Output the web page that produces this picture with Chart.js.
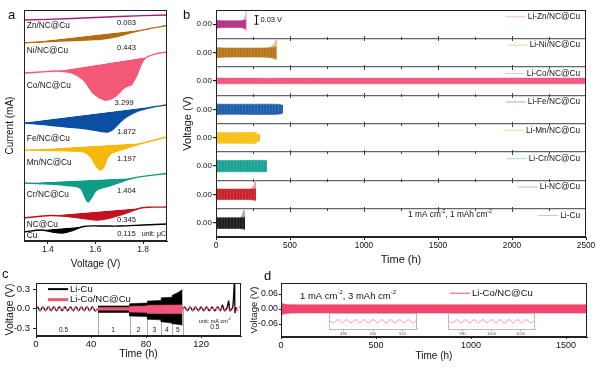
<!DOCTYPE html>
<html>
<head>
<meta charset="utf-8">
<script src="https://cdn.jsdelivr.net/npm/chart.js"></script>
<style>
html, body { margin: 0; padding: 0; background: #fff; width: 600px; height: 369px; overflow: hidden; }
canvas { position: absolute; left: 0; top: 0; }
.tag { position: absolute; font: 13px "Liberation Sans", Arial, sans-serif; line-height: 13px; color: #111; }
</style>
</head>
<body>
<canvas id="ca" width="600" height="369"></canvas>
<canvas id="cb" width="600" height="369"></canvas>
<canvas id="cc" width="600" height="369"></canvas>
<canvas id="cd" width="600" height="369"></canvas>
<canvas id="ci1" width="600" height="369"></canvas>
<canvas id="ci2" width="600" height="369"></canvas>
<div class="tag" style="left:8px;top:8px">a</div>
<div class="tag" style="left:183px;top:8px">b</div>
<div class="tag" style="left:2px;top:267px">c</div>
<div class="tag" style="left:264px;top:269px">d</div>
<script>
// ---------- panel a : stripping curves ----------
const aTicks = [1.4, 1.6, 1.8];
const aNames = ['Zn/NC@Cu', 'Ni/NC@Cu', 'Co/NC@Cu', 'Fe/NC@Cu', 'Mn/NC@Cu', 'Cr/NC@Cu', 'NC@Cu', 'Cu'];
const aCharges = ['0.003', '0.443', '3.299', '1.872', '1.197', '1.404', '0.345', '0.115'];

const znV = [1.30, 1.50, 1.70, 1.90];
const znI = [22.1, 22.25, 22.45, 22.6];
const niV = [1.30, 1.40, 1.50, 1.58, 1.63, 1.70, 1.76, 1.82, 1.90];
const niI = [19.8, 19.95, 20.05, 20.12, 20.2, 20.5, 20.9, 21.2, 21.55];
const coV = [1.30, 1.37, 1.44, 1.50, 1.55, 1.59, 1.64, 1.68, 1.72, 1.737, 1.75, 1.77, 1.795, 1.816, 1.87, 1.90];
const coI = [16.8, 16.9, 17.0, 16.8, 16.1, 14.8, 14.1, 14.4, 15.3, 15.5, 15.6, 16.4, 17.8, 18.4, 18.8, 18.9];
const feV = [1.30, 1.40, 1.48, 1.55, 1.59, 1.65, 1.67, 1.70, 1.73, 1.78, 1.84, 1.90];
const feI = [11.8, 11.6, 11.4, 11.25, 11.1, 10.9, 11.1, 11.8, 12.4, 13.0, 13.4, 13.6];
const mnV = [1.30, 1.40, 1.50, 1.55, 1.58, 1.60, 1.62, 1.635, 1.65, 1.67, 1.72, 1.80, 1.90];
const mnI = [9.1, 9.05, 9.0, 8.9, 8.4, 7.6, 7.1, 7.4, 8.3, 8.8, 9.2, 9.8, 10.4];
const crV = [1.30, 1.40, 1.48, 1.535, 1.556, 1.569, 1.585, 1.606, 1.66, 1.76, 1.90];
const crI = [5.8, 5.7, 5.55, 5.3, 4.4, 3.9, 4.4, 5.1, 5.5, 6.3, 6.75];
const ncV = [1.30, 1.41, 1.50, 1.55, 1.61, 1.66, 1.72, 1.79, 1.84, 1.90];
const ncI = [2.3, 2.55, 2.4, 2.25, 2.1, 2.3, 2.7, 3.3, 3.38, 3.4];
const cuV = [1.30, 1.37, 1.42, 1.46, 1.50, 1.55, 1.62, 1.70, 1.80, 1.90];
const cuI = [0.9, 1.1, 0.9, 0.8, 1.0, 1.45, 1.5, 1.5, 1.6, 1.7];
// straight baselines of the integrated peaks [v0, v1], [i0, i1]
const niBaseV = [1.32, 1.82], niBaseI = [19.85, 21.2];
const coBaseV = [1.44, 1.816], coBaseI = [17.0, 18.4];
const feBaseV = [1.30, 1.84], feBaseI = [11.85, 13.45];
const mnBaseV = [1.30, 1.80], mnBaseI = [9.1, 9.8];
const crBaseV = [1.30, 1.76], crBaseI = [5.8, 6.3];
const ncBaseV = [1.41, 1.79], ncBaseI = [2.55, 3.3];
const cuBaseV = [1.37, 1.55], cuBaseI = [1.1, 1.45];

// ---------- panel b : cycling, Li || X cells ----------
const bTicks = [0, 500, 1000, 1500, 2000, 2500];
const bRowTicks = [0, 0.1, 0.2, 0.3, 0.4, 0.5, 0.6, 0.7];
const bSeparators = [0.05, 0.15, 0.25, 0.35, 0.45, 0.55, 0.65];
const bNames = ['Li-Zn/NC@Cu', 'Li-Ni/NC@Cu', 'Li-Co/NC@Cu', 'Li-Fe/NC@Cu', 'Li-Mn/NC@Cu', 'Li-Cr/NC@Cu', 'Li-NC@Cu', 'Li-Cu'];

const znT = [0, 3, 15, 80, 150, 185, 205];
const znHi = [0.02, 0.016, 0.013, 0.012, 0.012, 0.013, 0.015];
const znLo = [-0.02, -0.016, -0.013, -0.012, -0.012, -0.013, -0.015];
const znTailT = [180, 190, 198, 204, 208];
const znTailHi = [0.013, 0.02, 0.032, 0.046, 0.04];
const znTailLo = [-0.013, -0.018, -0.022, -0.025, -0.02];

const niT = [0, 4, 20, 120, 250, 360, 410];
const niHi = [0.024, 0.019, 0.017, 0.016, 0.016, 0.017, 0.02];
const niLo = [-0.024, -0.019, -0.017, -0.016, -0.016, -0.017, -0.02];
const niTailT = [360, 380, 395, 406, 412];
const niTailHi = [0.017, 0.024, 0.034, 0.048, 0.042];
const niTailLo = [-0.017, -0.02, -0.023, -0.026, -0.022];

const coT = [0, 4, 20, 1000, 2500];
const coHi = [0.016, 0.012, 0.01, 0.01, 0.01];
const coLo = [-0.016, -0.012, -0.01, -0.01, -0.01];

const feT = [0, 4, 25, 200, 400, 440, 453];
const feHi = [0.025, 0.02, 0.018, 0.018, 0.018, 0.016, 0.013];
const feLo = [-0.025, -0.02, -0.018, -0.018, -0.018, -0.016, -0.013];

const mnT = [0, 4, 20, 150, 272, 276, 298];
const mnHi = [0.026, 0.02, 0.018, 0.018, 0.018, 0.012, 0.012];
const mnLo = [-0.026, -0.021, -0.02, -0.02, -0.02, -0.013, -0.013];

const crT = [0, 4, 20, 150, 330, 345];
const crHi = [0.03, 0.022, 0.02, 0.02, 0.02, 0.019];
const crLo = [-0.03, -0.022, -0.02, -0.02, -0.02, -0.019];

const ncT = [0, 4, 20, 150, 240, 270];
const ncHi = [0.027, 0.021, 0.019, 0.019, 0.019, 0.02];
const ncLo = [-0.027, -0.02, -0.018, -0.018, -0.018, -0.02];
const ncTailT = [232, 248, 258, 265, 271];
const ncTailHi = [0.019, 0.026, 0.036, 0.05, 0.04];
const ncTailLo = [-0.018, -0.02, -0.022, -0.024, -0.02];

const cuT = [0, 4, 20, 100, 180, 196];
const cuHi = [0.027, 0.02, 0.018, 0.018, 0.018, 0.02];
const cuLo = [-0.027, -0.021, -0.02, -0.02, -0.02, -0.022];
const cuTailT = [162, 174, 182, 187, 196];
const cuTailHi = [0.018, 0.025, 0.035, 0.048, 0.03];
const cuTailLo = [-0.02, -0.022, -0.024, -0.026, -0.024];

// ---------- panel c : rate test ----------
const cTicks = [0, 40, 80, 120];
const cYTicks = [-0.3, 0, 0.3];
const cWaveT1 = [0, 1, 3, 5, 7, 9, 11, 13, 15, 17, 19, 21, 23, 25, 27, 29, 31, 33, 35, 37, 39, 41, 43, 45];
const cuWaveV1 = [0, 0.03, -0.03, 0.03, -0.03, 0.03, -0.03, 0.03, -0.03, 0.03, -0.03, 0.03, -0.03, 0.03, -0.03, 0.03, -0.03, 0.03, -0.03, 0.03, -0.03, 0.03, -0.03, 0];
const coWaveV1 = [0, 0.028, -0.028, 0.028, -0.028, 0.028, -0.028, 0.028, -0.028, 0.028, -0.028, 0.028, -0.028, 0.028, -0.028, 0.028, -0.028, 0.028, -0.028, 0.028, -0.028, 0.028, -0.028, 0];
const cuEnvT = [45, 68, 68, 81, 81, 91, 91, 99, 99, 103, 106.5];
const cuEnvHi = [0.045, 0.045, 0.08, 0.09, 0.12, 0.13, 0.17, 0.18, 0.21, 0.25, 0.3];
const cuEnvLo = [-0.055, -0.055, -0.11, -0.12, -0.16, -0.17, -0.2, -0.22, -0.23, -0.24, -0.25];
const coEnvT = [45, 68, 68, 81, 81, 106.5];
const coEnvHi = [0.02, 0.02, 0.04, 0.045, 0.055, 0.06];
const coEnvLo = [-0.02, -0.02, -0.05, -0.055, -0.07, -0.075];
const cuWaveT3 = [106.5, 108, 110, 112, 114, 116, 118, 120, 122, 124, 126, 128, 130, 132, 134, 135.5, 137, 139, 140, 141, 143, 144.3, 144.6, 145.2, 146];
const cuWaveV3 = [0, 0.03, -0.03, 0.03, -0.03, 0.03, -0.03, 0.03, -0.03, 0.03, -0.03, 0.03, -0.03, 0.03, -0.03, 0.06, -0.03, 0.03, 0.12, -0.03, 0.03, 0.45, -0.06, 0.02, 0];
const coWaveT3 = [106.5, 108, 110, 112, 114, 116, 118, 120, 122, 124, 126, 128, 130, 132, 134, 136, 138, 140, 142, 144, 146, 148, 149];
const coWaveV3 = [0, 0.028, -0.028, 0.028, -0.028, 0.028, -0.028, 0.028, -0.028, 0.028, -0.028, 0.028, -0.028, 0.028, -0.028, 0.028, -0.028, 0.028, -0.028, 0.028, -0.028, 0.028, 0];
const cSteps = [45, 68, 81, 91, 99, 106.5];
const cRates = ['0.5', '1', '2', '3', '4', '5', '0.5'];
const cRateT = [20, 56, 74.5, 86, 95, 103, 130];

// ---------- panel d : long cycling ----------
const dTicks = [0, 500, 1000, 1500];
const dYTicks = [-0.06, 0, 0.06];
const dT = [0, 3, 10, 30, 80, 300, 1610];
const dHi = [0.03, 0.026, 0.021, 0.018, 0.017, 0.017, 0.017];
const dLo = [-0.03, -0.026, -0.021, -0.018, -0.016, -0.016, -0.016];
const inset1Ticks = [480, 500, 520];
const inset1T = [470, 473, 476, 479, 482, 485, 488, 491, 494, 497, 500, 503, 506, 509, 512, 515, 518, 521, 524, 527, 530];
const inset1V = [0.02, -0.02, 0.02, -0.02, 0.02, -0.02, 0.02, -0.02, 0.02, -0.02, 0.02, -0.02, 0.02, -0.02, 0.02, -0.02, 0.02, -0.02, 0.02, -0.02, 0.02];
const inset2Ticks = [980, 1000, 1020];
const inset2T = [970, 973, 976, 979, 982, 985, 988, 991, 994, 997, 1000, 1003, 1006, 1009, 1012, 1015, 1018, 1021, 1024, 1027, 1030];
const inset2V = [0.02, -0.02, 0.02, -0.02, 0.02, -0.02, 0.02, -0.02, 0.02, -0.02, 0.02, -0.02, 0.02, -0.02, 0.02, -0.02, 0.02, -0.02, 0.02, -0.02, 0.02];

// ---------- helpers ----------
const FONT = '"Liberation Sans", Arial, sans-serif';
Chart.defaults.font.family = FONT;
Chart.defaults.color = '#111';
Chart.defaults.animation = false;
Chart.defaults.events = [];
Chart.defaults.plugins.legend.display = false;
Chart.defaults.plugins.tooltip.enabled = false;
Chart.defaults.elements.point.radius = 0;

const plain = v => String(v);

function pad(L, T, R, B, yW, xH) {
    return { left: L - yW, top: T, right: 600 - R, bottom: 369 - B - xH };
}
function pts(t, v, off) {
    return t.map((tt, i) => ({ x: tt, y: (off || 0) + v[i] }));
}
function setTicks(list) {
    return s => { s.ticks = list.map(v => ({ value: v })); };
}
function drawRich(ctx, parts, x, y, size, align, color) {
    const sup = size * 0.62;
    let w = 0;
    const segs = parts.map(p => {
        const s = p.charAt(0) === '^';
        const t = s ? p.slice(1) : p;
        ctx.font = (s ? sup : size) + 'px ' + FONT;
        const mw = ctx.measureText(t).width;
        w += mw;
        return { t, s, mw };
    });
    let cx = align === 'center' ? x - w / 2 : (align === 'right' ? x - w : x);
    ctx.save();
    ctx.fillStyle = color || '#111';
    ctx.textBaseline = 'middle';
    ctx.textAlign = 'left';
    segs.forEach(g => {
        ctx.font = (g.s ? sup : size) + 'px ' + FONT;
        ctx.fillText(g.t, cx, g.s ? y - size * 0.33 : y);
        cx += g.mw;
    });
    ctx.restore();
    return w;
}
function frame(color) {
    return {
        id: 'frame',
        afterDatasetsDraw(chart) {
            const { ctx, chartArea: a } = chart;
            ctx.save();
            ctx.strokeStyle = color;
            ctx.lineWidth = 1;
            ctx.strokeRect(Math.round(a.left) + 0.5, Math.round(a.top) + 0.5,
                Math.round(a.right - a.left) - 1, Math.round(a.bottom - a.top) - 1);
            ctx.restore();
        }
    };
}
// items: text in data coords; keys: short legend lines in data coords
function notes(items, keys) {
    return {
        id: 'notes',
        afterDraw(chart) {
            const { ctx, scales: { x, y } } = chart;
            (keys || []).forEach(k => {
                ctx.save();
                ctx.strokeStyle = k.color;
                ctx.lineWidth = k.width;
                const py = y.getPixelForValue(k.y);
                ctx.beginPath();
                ctx.moveTo(x.getPixelForValue(k.x1), py);
                ctx.lineTo(x.getPixelForValue(k.x2), py);
                ctx.stroke();
                ctx.restore();
            });
            items.forEach(it => drawRich(ctx, it.parts, x.getPixelForValue(it.x), y.getPixelForValue(it.y),
                it.size, it.align || 'left', it.color));
        }
    };
}
function stripes(canvasId, col) {
    const c = document.createElement('canvas');
    c.width = 3; c.height = 4;
    const g = c.getContext('2d');
    g.fillStyle = col; g.fillRect(0, 0, 3, 4);
    g.fillStyle = 'rgba(255,255,255,0.1)'; g.fillRect(2, 0, 1, 4);
    return document.getElementById(canvasId).getContext('2d').createPattern(c, 'repeat');
}

// ---------- chart a ----------
const aCurves = [
    { v: znV, i: znI, col: '#9e2272' },
    { v: niV, i: niI, bv: niBaseV, bi: niBaseI, col: '#b36c12' },
    { v: coV, i: coI, bv: coBaseV, bi: coBaseI, col: '#f45877' },
    { v: feV, i: feI, bv: feBaseV, bi: feBaseI, col: '#0b4fa2' },
    { v: mnV, i: mnI, bv: mnBaseV, bi: mnBaseI, col: '#f6b90a' },
    { v: crV, i: crI, bv: crBaseV, bi: crBaseI, col: '#0f9c89' },
    { v: ncV, i: ncI, bv: ncBaseV, bi: ncBaseI, col: '#c3121e' },
    { v: cuV, i: cuI, bv: cuBaseV, bi: cuBaseI, col: '#000000' }
];
const aData = [];
aCurves.forEach(c => {
    let fill = false;
    if (c.bv) {
        aData.push({ data: pts(c.bv, c.bi), borderWidth: 0, borderColor: 'rgba(0,0,0,0)', fill: false, tension: 0 });
        fill = { target: aData.length - 1, below: c.col, above: 'rgba(0,0,0,0)' };
    }
    aData.push({ data: pts(c.v, c.i), borderColor: c.col, borderWidth: 1.3, fill: fill, tension: 0.35 });
});
const aLabelY = [21.53, 19.03, 15.5, 10.27, 7.83, 4.6, 1.67, 0.53];
const aChargeY = [21.77, 19.33, 13.83, 10.93, 8.17, 5.0, 2.1, 0.67];
const aItems = [];
aNames.forEach((n, k) => {
    aItems.push({ parts: [n], x: 1.312, y: aLabelY[k], size: 8.3 });
    aItems.push({ parts: [aCharges[k]], x: k === 2 ? 1.72 : 1.73, y: aChargeY[k], size: 7.6, align: 'center' });
});
aItems.push({ parts: ['unit: μC'], x: 1.896, y: 0.67, size: 7, align: 'right' });

new Chart(document.getElementById('ca'), {
    type: 'line',
    data: { datasets: aData },
    options: {
        responsive: false,
        layout: { padding: pad(24, 10, 167, 241, 20, 29) },
        scales: {
            x: {
                type: 'linear', min: 1.3, max: 1.9,
                afterBuildTicks: setTicks(aTicks),
                afterFit: s => { s.height = 29; },
                grid: { drawOnChartArea: false, tickLength: 3, color: '#222' },
                border: { color: '#222' },
                ticks: { font: { size: 8.5 }, padding: 1, autoSkip: false, maxRotation: 0, callback: v => v.toFixed(1) },
                title: { display: true, text: 'Voltage (V)', font: { size: 10 }, padding: 0 }
            },
            y: {
                type: 'linear', min: 0, max: 23.1,
                afterFit: s => { s.width = 20; },
                ticks: { display: false },
                grid: { display: false },
                border: { color: '#222' },
                title: { display: true, text: 'Current (mA)', font: { size: 10 }, padding: 0 }
            }
        }
    },
    plugins: [frame('#222'), notes(aItems)]
});

// ---------- chart b ----------
const bRows = [
    { row: 7, t: znT, hi: znHi, lo: znLo, col: '#b23182', pale: '#f1b9d8', tail: [znTailT, znTailHi, znTailLo], tailCol: '#e8b0d1' },
    { row: 6, t: niT, hi: niHi, lo: niLo, col: '#b8761c', pale: '#e9d0a5', tail: [niTailT, niTailHi, niTailLo], tailCol: '#e0c48f' },
    { row: 5, t: coT, hi: coHi, lo: coLo, col: '#f0577a', pale: '#f7b9c8' },
    { row: 4, t: feT, hi: feHi, lo: feLo, col: '#1f5ea8', pale: '#92b7dc' },
    { row: 3, t: mnT, hi: mnHi, lo: mnLo, col: '#f6c21a', pale: '#f8dd9c' },
    { row: 2, t: crT, hi: crHi, lo: crLo, col: '#1aa393', pale: '#a5ddd5' },
    { row: 1, t: ncT, hi: ncHi, lo: ncLo, col: '#c8232c', pale: '#f0aaaa', tail: [ncTailT, ncTailHi, ncTailLo], tailCol: '#eaa3a5' },
    { row: 0, t: cuT, hi: cuHi, lo: cuLo, col: '#1e1e1e', pale: '#c8c8c8', tail: [cuTailT, cuTailHi, cuTailLo], tailCol: '#a9a9a9' }
];
const bData = [];
bRows.forEach(r => {
    const off = bRowTicks[r.row];
    if (r.tail) {
        bData.push({ data: pts(r.tail[0], r.tail[1], off), borderColor: r.tailCol, borderWidth: 0.6, fill: false, tension: 0.3, order: 1 });
        bData.push({ data: pts(r.tail[0], r.tail[2], off), borderColor: r.tailCol, borderWidth: 0.6, backgroundColor: r.tailCol, fill: '-1', tension: 0.3, order: 1 });
    }
    bData.push({ data: pts(r.t, r.hi, off), borderColor: r.col, borderWidth: 0.6, fill: false, tension: 0.3, order: 0 });
    bData.push({ data: pts(r.t, r.lo, off), borderColor: r.col, borderWidth: 0.6, backgroundColor: stripes('cb', r.col), fill: '-1', tension: 0.3, order: 0 });
});
const isRow = v => bRowTicks.some(r => Math.abs(r - v) < 1e-6);
const bItems = [
    { parts: ['0.03 V'], x: 300, y: 0.7145, size: 7.5 },
    { parts: ['1 mA cm', '^-2', ', 1 mAh cm', '^-2'], x: 1581, y: 0.029, size: 8.3, align: 'center' }
];
const bExtra = {
    id: 'bExtra',
    afterDraw(chart) {
        const { ctx, scales: { x, y }, chartArea: a } = chart;
        ctx.save();
        // small ticks on the separators
        ctx.strokeStyle = '#444';
        ctx.lineWidth = 1;
        bSeparators.forEach(s => {
            const py = Math.round(y.getPixelForValue(s)) + 0.5;
            for (let t = 250; t < 2500; t += 250) {
                const px = Math.round(x.getPixelForValue(t)) + 0.5;
                const h = t % 500 === 0 ? 2.5 : 1.5;
                ctx.beginPath(); ctx.moveTo(px, py - h); ctx.lineTo(px, py + h); ctx.stroke();
            }
        });
        // 0.03 V scale bar
        const bx = Math.round(x.getPixelForValue(270)) + 0.5;
        const y1 = y.getPixelForValue(0.7), y2 = y.getPixelForValue(0.73);
        ctx.strokeStyle = '#111';
        ctx.beginPath();
        ctx.moveTo(bx, y1); ctx.lineTo(bx, y2);
        ctx.moveTo(bx - 2, y1); ctx.lineTo(bx + 2, y1);
        ctx.moveTo(bx - 2, y2); ctx.lineTo(bx + 2, y2);
        ctx.stroke();
        // legends of the stacked panels
        bRows.forEach((r, k) => {
            const py = y.getPixelForValue(bRowTicks[r.row] + 0.026);
            ctx.font = '8.3px ' + FONT;
            const w = ctx.measureText(bNames[k]).width;
            const tx = a.right - 6 - w;
            ctx.strokeStyle = r.pale;
            ctx.lineWidth = 1;
            ctx.beginPath(); ctx.moveTo(tx - 22, py); ctx.lineTo(tx - 2, py); ctx.stroke();
            drawRich(ctx, [bNames[k]], tx, py, 8.3, 'left', '#111');
        });
        ctx.restore();
    }
};
new Chart(document.getElementById('cb'), {
    type: 'line',
    data: { datasets: bData },
    options: {
        responsive: false,
        layout: { padding: pad(216, 10, 586, 237, 34.6, 29.6) },
        scales: {
            x: {
                type: 'linear', min: 0, max: 2500,
                afterBuildTicks: setTicks(bTicks),
                afterFit: s => { s.height = 29.6; },
                grid: { drawOnChartArea: false, tickLength: 3, color: '#222' },
                border: { color: '#222' },
                ticks: { font: { size: 8.3 }, padding: 1, autoSkip: false, maxRotation: 0, callback: plain },
                title: { display: true, text: 'Time (h)', font: { size: 11 }, padding: 0 }
            },
            y: {
                type: 'linear', min: -0.05, max: 0.75,
                afterBuildTicks: setTicks(bRowTicks.concat(bSeparators)),
                afterFit: s => { s.width = 34.6; },
                grid: {
                    drawOnChartArea: true, tickLength: 3, lineWidth: 1.2,
                    color: c => isRow(c.tick.value) ? 'rgba(0,0,0,0)' : '#666',
                    tickColor: c => isRow(c.tick.value) ? '#222' : 'rgba(0,0,0,0)'
                },
                border: { color: '#222' },
                ticks: { font: { size: 8 }, padding: 1, autoSkip: false, callback: v => isRow(v) ? '0.00' : '' },
                title: { display: true, text: 'Voltage (V)', font: { size: 11 }, padding: 0 }
            }
        }
    },
    plugins: [frame('#222'), bExtra, notes(bItems)]
});

// ---------- chart c ----------
const cData = [
    { data: pts(cuEnvT, cuEnvHi), borderColor: '#000', borderWidth: 0.6, fill: false, tension: 0, order: 2 },
    { data: pts(cuEnvT, cuEnvLo), borderColor: '#000', borderWidth: 0.6, backgroundColor: '#000', fill: '-1', tension: 0, order: 2 },
    { data: pts(coEnvT, coEnvHi), borderColor: '#f0567a', borderWidth: 0.6, fill: false, tension: 0, order: 1 },
    { data: pts(coEnvT, coEnvLo), borderColor: '#f0567a', borderWidth: 0.6, backgroundColor: '#f0567a', fill: '-1', tension: 0, order: 1 },
    { data: pts(cWaveT1, cuWaveV1), borderColor: '#000', borderWidth: 1.3, fill: false, tension: 0.4, order: 2 },
    { data: pts(cWaveT1, coWaveV1), borderColor: '#f0567a', borderWidth: 1.4, borderDash: [3, 2], fill: false, tension: 0.4, order: 1 },
    { data: pts(cuWaveT3, cuWaveV3), borderColor: '#000', borderWidth: 1.3, fill: false, tension: 0.25, order: 2 },
    { data: pts(coWaveT3, coWaveV3), borderColor: '#f0567a', borderWidth: 1.4, borderDash: [3, 2], fill: false, tension: 0.4, order: 1 }
];
const cItems = [
    { parts: ['Li-Cu'], x: 24.7, y: 0.305, size: 9.5 },
    { parts: ['Li-Co/NC@Cu'], x: 24.7, y: 0.142, size: 9.5 },
    { parts: ['unit: mA cm', '^-2'], x: 130, y: -0.19, size: 5.5, align: 'center' }
];
cRates.forEach((r, k) => cItems.push({ parts: [r], x: cRateT[k], y: k === 6 ? -0.28 : -0.33, size: 6.5, align: 'center' }));
const cKeys = [
    { x1: 8.7, x2: 23.3, y: 0.305, color: '#000', width: 2 },
    { x1: 8.7, x2: 23.3, y: 0.142, color: '#f0567a', width: 3 }
];
const cStepLines = {
    id: 'cSteps',
    beforeDatasetsDraw(chart) {
        const { ctx, scales: { x, y } } = chart;
        ctx.save();
        ctx.strokeStyle = '#aaa';
        ctx.lineWidth = 1;
        cSteps.forEach(t => {
            const px = Math.round(x.getPixelForValue(t)) + 0.5;
            ctx.beginPath(); ctx.moveTo(px, y.getPixelForValue(0)); ctx.lineTo(px, y.getPixelForValue(-0.42)); ctx.stroke();
        });
        ctx.restore();
    }
};
new Chart(document.getElementById('cc'), {
    type: 'line',
    data: { datasets: cData },
    options: {
        responsive: false,
        layout: { padding: pad(36, 283, 241, 336, 32.3, 24.3) },
        scales: {
            x: {
                type: 'linear', min: 0, max: 149,
                afterBuildTicks: setTicks(cTicks),
                afterFit: s => { s.height = 24.3; },
                grid: { drawOnChartArea: false, tickLength: 2, color: '#222' },
                border: { color: '#222' },
                ticks: { font: { size: 9.5 }, padding: 1, autoSkip: false, maxRotation: 0, callback: plain },
                title: { display: true, text: 'Time (h)', font: { size: 10.5 }, padding: 0 }
            },
            y: {
                type: 'linear', min: -0.42, max: 0.4,
                afterBuildTicks: setTicks(cYTicks),
                afterFit: s => { s.width = 32.3; },
                grid: { drawOnChartArea: false, tickLength: 3, color: '#222' },
                border: { color: '#222' },
                ticks: { font: { size: 9.5 }, padding: 3, autoSkip: false, callback: v => v.toFixed(1) },
                title: { display: true, text: 'Voltage (V)', font: { size: 10.5 }, padding: 0 }
            }
        }
    },
    plugins: [frame('#222'), cStepLines, notes(cItems, cKeys)]
});

// ---------- chart d ----------
const dData = [
    { data: pts(dT, dHi), borderColor: '#f2456b', borderWidth: 0.6, fill: false, tension: 0.3 },
    { data: pts(dT, dLo), borderColor: '#f2456b', borderWidth: 0.6, backgroundColor: '#f2456b', fill: '-1', tension: 0.3 }
];
const dItems = [
    { parts: ['Li-Co/NC@Cu'], x: 1005, y: 0.063, size: 9.5 },
    { parts: ['1 mA cm', '^-2', ', 3 mAh cm', '^-2'], x: 100, y: 0.052, size: 9.5 }
];
const dKeys = [{ x1: 889, x2: 995, y: 0.063, color: '#f06a88', width: 1.2 }];
new Chart(document.getElementById('cd'), {
    type: 'line',
    data: { datasets: dData },
    options: {
        responsive: false,
        layout: { padding: pad(281, 283, 587, 337, 32.7, 25) },
        scales: {
            x: {
                type: 'linear', min: 0, max: 1610,
                afterBuildTicks: setTicks(dTicks),
                afterFit: s => { s.height = 25; },
                grid: { drawOnChartArea: false, tickLength: 2, color: '#222' },
                border: { color: '#222' },
                ticks: { font: { size: 9 }, padding: 1, autoSkip: false, maxRotation: 0, callback: plain },
                title: { display: true, text: 'Time (h)', font: { size: 10 }, padding: 0 }
            },
            y: {
                type: 'linear', min: -0.112, max: 0.104,
                afterBuildTicks: setTicks(dYTicks),
                afterFit: s => { s.width = 32.7; },
                grid: { drawOnChartArea: false, tickLength: 2, color: '#222' },
                border: { color: '#222' },
                ticks: { font: { size: 8.8 }, padding: 1, autoSkip: false, callback: v => v.toFixed(2) },
                title: { display: true, text: 'Voltage (V)', font: { size: 9.5 }, padding: 0 }
            }
        }
    },
    plugins: [frame('#222'), notes(dItems, dKeys)]
});

// ---------- insets of d ----------
function inset(id, L, R, t, v, ticks) {
    new Chart(document.getElementById(id), {
        type: 'line',
        data: { datasets: [{ data: pts(t, v), borderColor: '#f28aa2', borderWidth: 0.9, fill: false, tension: 0.4 }] },
        options: {
            responsive: false,
            layout: { padding: pad(L, 313, R, 329.5, 0, 7) },
            scales: {
                x: {
                    type: 'linear', min: t[0], max: t[t.length - 1],
                    afterBuildTicks: setTicks(ticks),
                    afterFit: s => { s.height = 7; },
                    grid: { drawOnChartArea: false, tickLength: 1.5, color: '#999' },
                    border: { color: '#bbb' },
                    ticks: { font: { size: 4 }, color: '#555', padding: 0.5, autoSkip: false, maxRotation: 0, callback: plain }
                },
                y: { type: 'linear', min: -0.1, max: 0.1, display: false }
            }
        },
        plugins: [frame('#bbb')]
    });
}
inset('ci1', 329, 417, inset1T, inset1V, inset1Ticks);
inset('ci2', 448, 535, inset2T, inset2V, inset2Ticks);
</script>
</body>
</html>
